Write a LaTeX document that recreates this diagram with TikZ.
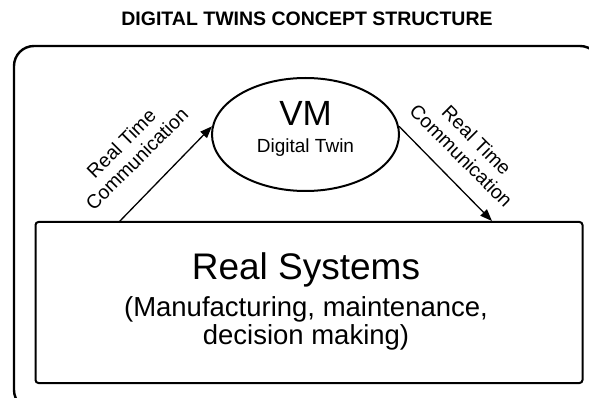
\documentclass[tikz,border=0pt]{standalone}
\usepackage{fontspec}
\setmainfont{Liberation Sans}
\usetikzlibrary{arrows.meta,shapes.geometric}

\begin{document}
\begin{tikzpicture}[x=1pt,y=-1pt,
	outer/.style = {draw, line width=2.4pt, rounded corners=20pt},
	system/.style = {draw, line width=2pt, rounded corners=3pt, minimum width=547pt, minimum height=161pt},
	twin/.style = {draw, ellipse, line width=2pt, minimum width=187pt, minimum height=113pt},
	link/.style = {line width=1.3pt, -{Triangle[length=12pt,width=9pt]}},
	comm/.style = {font=\fontsize{19.5}{22}\selectfont, align=center}]
	\useasboundingbox (0,0) rectangle (589,398);
	\node[font=\fontsize{19.5}{22}\selectfont\bfseries] (title) at (307,19) {DIGITAL TWINS CONCEPT STRUCTURE};
	\draw[outer] (14,46) rectangle (600,410);
	\node[system] (real) at (309,302.5) {};
	\node[font=\fontsize{37}{44}\selectfont] (realname) at (306,270) {Real Systems};
	\node[font=\fontsize{27.5}{28}\selectfont, align=center] (realtext) at (306,323) {(Manufacturing, maintenance,\\decision making)};
	\node[twin] (vm) at (305.5,134.5) {};
	\node[font=\fontsize{35}{40}\selectfont] (vmname) at (305.5,113) {VM};
	\node[font=\fontsize{19}{22}\selectfont] (vmtext) at (305.5,148) {Digital Twin};
	\coordinate (up) at (119,222);
	\coordinate (down) at (492,221);
	\draw[link] (up) -- (vm.175);
	\draw[link] (vm.5) -- (down);
	\node[comm, rotate=45] (commleft) at (129,151) {Real Time\\Communication};
	\node[comm, rotate=-45] (commright) at (469,148) {Real Time\\Communication};
\end{tikzpicture}
\end{document}
